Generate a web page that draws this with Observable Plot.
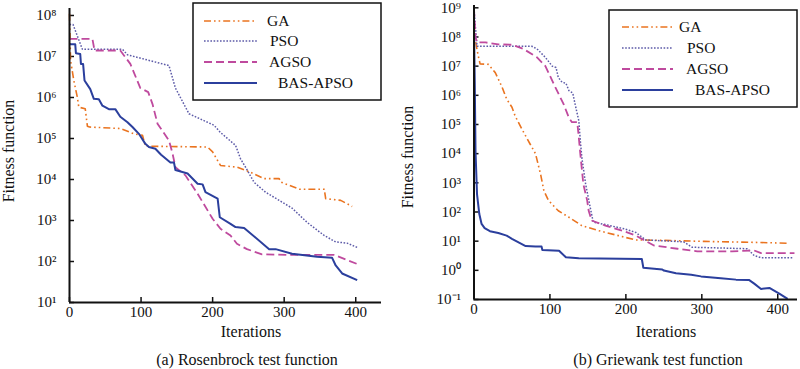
<!DOCTYPE html>
<html><head><meta charset="utf-8">
<script src="https://cdn.jsdelivr.net/npm/d3@7"></script>
<script src="https://cdn.jsdelivr.net/npm/@observablehq/plot@0.6"></script>
<style>
html,body{margin:0;padding:0;background:#fff;}
#wrap{position:relative;width:800px;height:369px;overflow:hidden;font-family:"Liberation Serif","Times New Roman",serif;}
.panel{position:absolute;top:0;}
#overlay{position:absolute;left:0;top:0;}
</style></head><body><div id="wrap"></div>
<script>
// ---- data: (a) Rosenbrock ----
const seriesNames = ["GA", "PSO", "AGSO", "BAS-APSO"];
const rosenGA_it  = [0,1.5,6,11,13,22,25,28,71,90,102,106,193,200,211,234,253,272,293,295,321,356,358,379,395];
const rosenGA_val = [1.1e8,8e6,2.6e6,1e6,5.8e5,5.3e5,2e5,1.9e5,1.75e5,1.3e5,1.2e5,6.5e4,6.2e4,4.7e4,2.2e4,2e4,1.5e4,1.05e4,1.05e4,8.7e3,5.8e3,5.8e3,3.4e3,3.1e3,2.2e3];
const rosenPSO_it  = [0,5,18,74,81,139,148,167,202,211,232,239,246,258,274,293,311,332,356,372,388,402];
const rosenPSO_val = [6e7,6e7,1.5e7,1.5e7,1.1e7,6e6,1.7e6,4e5,2.1e5,1.4e5,6.8e4,3.2e4,2e4,8.5e3,4.9e3,3.1e3,2e3,9e2,4.3e2,3e2,2.8e2,2.2e2];
const rosenAGSO_it  = [0,32,35,71,85,99,110,116,123,139,144,148,162,179,200,211,225,234,248,269,304,370,402];
const rosenAGSO_val = [2.7e7,2.7e7,1.4e7,1.4e7,6.6e6,1.7e6,1.35e6,6.9e5,2.3e5,8.9e4,4.3e4,2e4,1.26e4,4.5e3,1.1e3,6.3e2,4.3e2,2.7e2,2e2,1.5e2,1.45e2,1.45e2,87];
const rosenBAS_it  = [0,8,9,15,16,19,21,29,34,41,46,55,64,71,81,88,97,106,111,120,128,141,146,148,165,179,186,190,207,210,225,232,244,279,288,311,346,367,372,381,402];
const rosenBAS_val = [2e7,2e7,1.2e7,1.15e7,6.6e6,6.6e6,2.6e6,1.6e6,9.3e5,9e5,6.3e5,5.2e5,5.2e5,3.4e5,2.5e5,1.9e5,1.3e5,7.4e4,6.2e4,5.6e4,4e4,2.6e4,2.6e4,1.7e4,1.4e4,7.9e3,7.6e3,4.9e3,3.4e3,1.2e3,8.3e2,6.9e2,6.6e2,2e2,2e2,1.55e2,1.3e2,1.23e2,80,51,35];
// ---- data: (b) Griewank ----
const griewGA_it  = [0,1,3,6,8,19,28,37,43,50,54,63,74,81,88,92,98,111,125,142,164,190,213,220,259,303,369,413];
const griewGA_val = [3e8,1.2e8,5e7,2e7,1.2e7,1.15e7,6e6,1.9e6,7.4e5,3.9e5,2e5,7e4,2.1e4,1e4,1.8e3,5.4e2,2.5e2,1.1e2,66,34,23,15.5,11,11,10.5,9.8,9.1,8.5];
const griewPSO_it  = [0,2,4,76,83,94,103,108,111,116,121,125,130,134,138,140,142,147,153,157,173,199,213,226,276,287,360,369,378,420];
const griewPSO_val = [1e9,2e8,4.8e7,4.8e7,3.9e7,2e7,1e7,9e6,4.1e6,2.8e6,2.6e6,1.45e6,1.2e6,3.9e5,1.35e5,2.8e4,7.4e3,9e2,1.45e2,45,37,26,20,11,9.5,6.2,5.5,3.2,2.7,2.7];
const griewAGSO_it  = [0,2,4,15,32,50,65,83,94,100,107,118,125,129,136,138,140,144,149,151,155,173,195,213,237,268,294,340,369,378,422];
const griewAGSO_val = [9e8,1e8,6.5e7,6.5e7,5.6e7,5.4e7,3.9e7,2e7,1e7,4.7e6,1.9e6,5e5,1.7e5,1.2e5,1.2e5,3.6e4,9.8e3,9e2,2.5e2,1.1e2,51,34,23,15.5,7.1,5.5,4.5,4.5,4.8,3.9,3.9];
const griewBAS_it  = [0,1,2,4,7,10,14,21,32,43,50,68,81,89,90,112,121,138,221,223,248,250,266,286,299,325,345,362,369,378,389,402,413];
const griewBAS_val = [2e8,3e6,1.2e4,4e2,85,39,28,22,19,15.5,12,6.8,6.5,6.5,5,4.7,2.8,2.6,2.45,1.23,1.07,0.98,0.79,0.71,0.62,0.54,0.48,0.47,0.35,0.23,0.25,0.16,0.105];
// ---- ticks & labels ----
const xTicks = [0, 100, 200, 300, 400];
const yTicksA = [1e1,1e2,1e3,1e4,1e5,1e6,1e7,1e8];
const yTicksB = [1e-1,1e0,1e1,1e2,1e3,1e4,1e5,1e6,1e7,1e8,1e9];
const xLabel = "Iterations";
const yLabel = "Fitness function";
const captionA = "(a) Rosenbrock test function";
const captionB = "(b) Griewank test function";

// ---- styles ----
const styles = {
  "GA":       {stroke: "#ea7420", dash: "7,3,1.6,3,1.6,3", width: 1.6},
  "PSO":      {stroke: "#5d5ba8", dash: "1.6,1.6", width: 1.5},
  "AGSO":     {stroke: "#bf4a9e", dash: "8,4", width: 1.8},
  "BAS-APSO": {stroke: "#2b3f9d", dash: null, width: 2}
};
const supMap = {"0":"⁰","1":"¹","2":"²","3":"³","4":"⁴","5":"⁵","6":"⁶","7":"⁷","8":"⁸","9":"⁹","-":"⁻"};
const sup = d => "10" + String(Math.round(Math.log10(d))).split("").map(c => supMap[c]).join("");

function rows(its, vals, name) { return its.map((it, i) => ({it, v: vals[i], name})); }

const panels = [
  {left: 0, series: [rosenGA_it, rosenGA_val, rosenPSO_it, rosenPSO_val, rosenAGSO_it, rosenAGSO_val, rosenBAS_it, rosenBAS_val],
   xDomain: [0, 436], yDomain: [10, 1.48e8], yTicks: yTicksA, yMin: 10,
   margin: {left: 69, right: 19, top: 8, bottom: 38}},
  {left: 400, series: [griewGA_it, griewGA_val, griewPSO_it, griewPSO_val, griewAGSO_it, griewAGSO_val, griewBAS_it, griewBAS_val],
   xDomain: [0, 426], yDomain: [0.1, 1.2e9], yTicks: yTicksB, yMin: 0.1,
   margin: {left: 73.5, right: 3, top: 5, bottom: 41}}
];

const wrap = document.getElementById("wrap");
for (const p of panels) {
  const marks = [];
  seriesNames.forEach((name, k) => {
    const s = styles[name];
    marks.push(Plot.line(rows(p.series[2*k], p.series[2*k+1], name), {
      x: "it", y: "v", stroke: s.stroke, strokeWidth: s.width,
      strokeDasharray: s.dash || undefined, strokeLinejoin: "round", strokeLinecap: "butt"
    }));
  });
  const chart = Plot.plot({
    width: 400, height: 340,
    marginLeft: p.margin.left, marginRight: p.margin.right,
    marginTop: p.margin.top, marginBottom: p.margin.bottom,
    style: {fontFamily: '"Liberation Serif", serif', fontSize: "15px", background: "transparent", color: "#111"},
    x: {domain: p.xDomain},
    y: {type: "log", domain: p.yDomain},
    marks: [
      Plot.axisX({ticks: xTicks, tickSize: -5, tickPadding: 9, tickFormat: d => String(d), label: null, strokeWidth: 1.5}),
      Plot.axisY({ticks: p.yTicks, tickSize: -5, tickPadding: 18, tickFormat: sup, label: null, strokeWidth: 1.5}),
      ...marks,
      Plot.ruleX([0], {stroke: "#111", strokeWidth: 2}),
      Plot.ruleY([p.yMin], {stroke: "#111", strokeWidth: 2})
    ]
  });
  const div = document.createElement("div");
  div.className = "panel";
  div.style.left = p.left + "px";
  div.appendChild(chart);
  wrap.appendChild(div);
}

// ---- overlay: legends and titles ----
const svg = d3.select(wrap).append("svg").attr("id", "overlay")
  .attr("width", 800).attr("height", 369)
  .style("font-family", '"Liberation Serif", serif').style("fill", "#111");

const legends = [
  {x0: 193, y0: 3, x1: 381, y1: 100, rows: [21, 41, 62, 83], lx0: 204, lx1: 257, tx: [267, 270, 269, 278]},
  {x0: 609, y0: 10, x1: 797, y1: 107, rows: [27, 48, 69, 90], lx0: 622, lx1: 673, tx: [679, 687, 686, 695]}
];
for (const L of legends) {
  svg.append("rect").attr("x", L.x0).attr("y", L.y0).attr("width", L.x1 - L.x0).attr("height", L.y1 - L.y0)
    .attr("fill", "#fff").attr("stroke", "#111").attr("stroke-width", 1.5);
  seriesNames.forEach((name, k) => {
    const s = styles[name];
    svg.append("line").attr("x1", L.lx0).attr("x2", L.lx1).attr("y1", L.rows[k]).attr("y2", L.rows[k])
      .attr("stroke", s.stroke).attr("stroke-width", s.width).attr("stroke-dasharray", s.dash);
    svg.append("text").attr("x", L.tx[k]).attr("y", L.rows[k]).attr("dy", "0.33em")
      .attr("font-size", 15.5).text(name);
  });
}
const texts = [
  {t: xLabel, x: 251, y: 332}, {t: xLabel, x: 666, y: 332},
  {t: captionA, x: 247, y: 360}, {t: captionB, x: 658, y: 360}
];
for (const T of texts) {
  svg.append("text").attr("x", T.x).attr("y", T.y).attr("dy", "0.33em").attr("text-anchor", "middle")
    .attr("font-size", 16).text(T.t);
}
for (const [x, y] of [[9, 151], [408, 157]]) {
  svg.append("text").attr("transform", `translate(${x},${y}) rotate(-90)`).attr("dy", "0.33em")
    .attr("text-anchor", "middle").attr("font-size", 16).text(yLabel);
}
</script></body></html>
